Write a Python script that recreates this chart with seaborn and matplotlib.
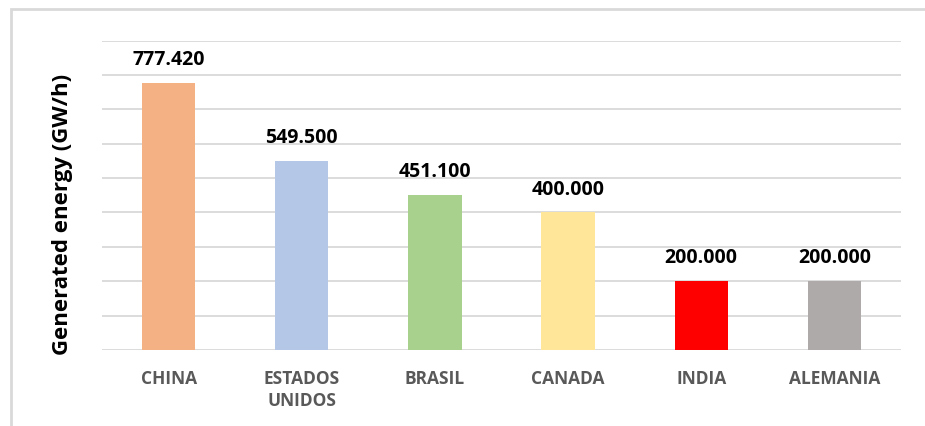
import pandas as pd
import matplotlib.pyplot as plt
import matplotlib.patches as mpatches
import seaborn as sns

countries = ['CHINA', 'ESTADOS\nUNIDOS', 'BRASIL', 'CANADA', 'INDIA', 'ALEMANIA']
energy = [777.420, 549.500, 451.100, 400.000, 200.000, 200.000]
value_labels = ['777.420', '549.500', '451.100', '400.000', '200.000', '200.000']
bar_colors = ['#F4B183', '#B4C7E7', '#A9D18E', '#FFE699', '#FF0000', '#AEAAAA']

df = pd.DataFrame({'country': countries, 'energy': energy})

sns.set_theme(style="white")
plt.rcParams['font.family'] = ['Open Sans', 'DejaVu Sans']

fig = plt.figure(figsize=(9.25, 4.27), dpi=100)
ax = fig.add_axes([102 / 925, 1 - 351 / 427, (901 - 102) / 925, (351 - 41.5) / 427])

sns.barplot(data=df, x='country', y='energy', hue='country', palette=bar_colors,
            legend=False, width=0.4, saturation=1, ax=ax, zorder=3, linewidth=0)

ax.set_ylim(0, 900)
ax.set_yticks(range(0, 901, 100))
ax.set_yticklabels([])
ax.tick_params(axis='y', length=0)
ax.tick_params(axis='x', length=0, pad=14, labelsize=12.5, labelcolor='#595959')
for lbl in ax.get_xticklabels():
    lbl.set_fontweight('bold')
    lbl.set_linespacing(1.25)
ax.grid(axis='y', color='#D9D9D9', linewidth=1.3, zorder=0)
for s in ax.spines.values():
    s.set_visible(False)

ax.set_xlabel('')
ax.set_ylabel('Generated energy (GW/h)', fontsize=16, fontweight='bold', color='black')
ax.yaxis.set_label_coords(-0.036, 0.44)

for i, (v, t) in enumerate(zip(energy, value_labels)):
    ax.annotate(t, (i, v), xytext=(0, 10), textcoords='offset points', ha='center', va='bottom',
                fontsize=14, fontweight='bold', color='black')

# outer chart border (only top and left visible in the crop)
fig.patches.append(mpatches.Rectangle((11 / 925, -0.2), 1.2, 1.2 - 10 / 427,
                                      transform=fig.transFigure, fill=False,
                                      edgecolor='#D9D9D9', linewidth=2))

plt.savefig('out.png', dpi=100)
